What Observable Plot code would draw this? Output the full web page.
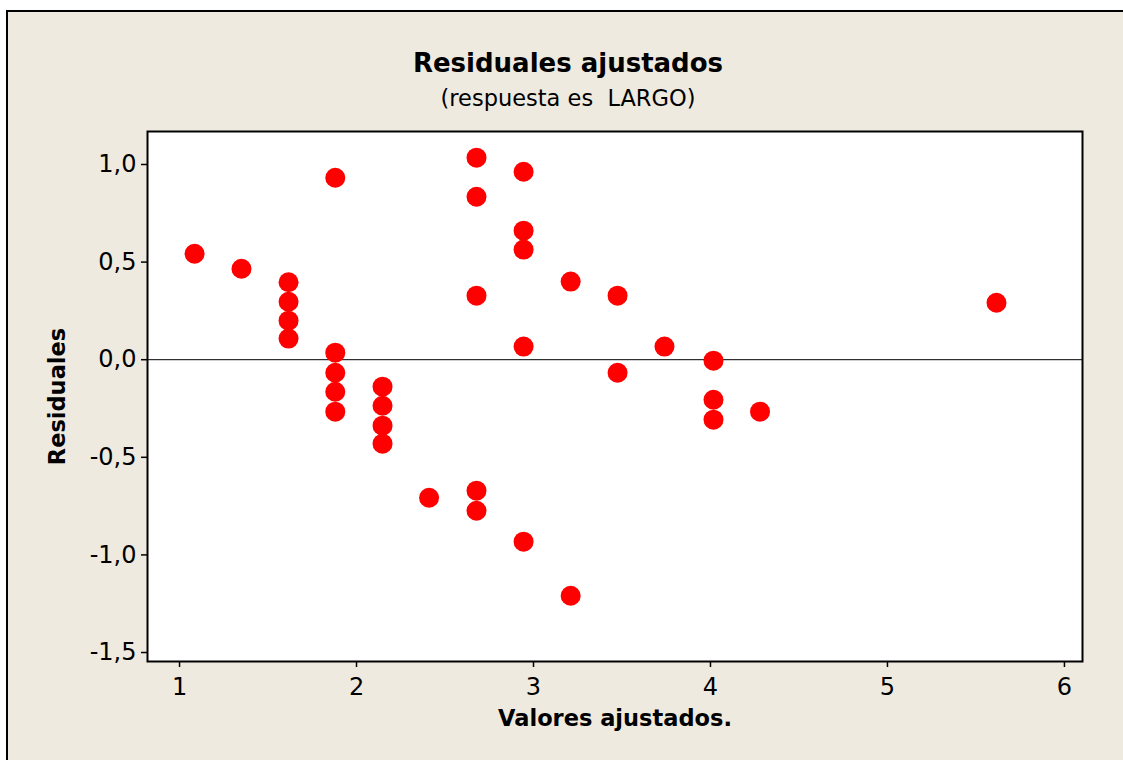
<!DOCTYPE html>
<html>
<head>
<meta charset="utf-8">
<script src="https://cdn.jsdelivr.net/npm/d3@7"></script>
<script src="https://cdn.jsdelivr.net/npm/@observablehq/plot@0.6"></script>
<style>
  html, body { margin: 0; padding: 0; background: #ffffff; width: 1123px; height: 760px; overflow: hidden; }
  #frame { position: absolute; left: 6px; top: 10px; width: 1130px; height: 760px; background: #EEEAE0;
           border-left: 2px solid #000; border-top: 2px solid #000; }
  #title { position: absolute; left: 0; width: 1136px; top: 47px; text-align: center;
           font-family: "DejaVu Sans", sans-serif; font-weight: bold; font-size: 26px; color: #000; line-height: 32px; }
  #subtitle { position: absolute; left: 0; width: 1136px; top: 84px; text-align: center;
           font-family: "DejaVu Sans", sans-serif; font-size: 22.5px; color: #000; line-height: 28px; }
  #chart { position: absolute; left: 0; top: 0; }
</style>
</head>
<body>
<div id="frame"></div>
<div id="title">Residuales ajustados</div>
<div id="subtitle">(respuesta es&nbsp; LARGO)</div>
<div id="chart"></div>
<script>
const fitted = [1.085, 1.35, 1.616, 1.616, 1.616, 1.616,
  1.88, 1.88, 1.88, 1.88, 1.88,
  2.147, 2.147, 2.147, 2.147,
  2.41,
  2.678, 2.678, 2.678, 2.678, 2.678,
  2.944, 2.944, 2.944, 2.944, 2.944,
  3.21, 3.21,
  3.475, 3.475,
  3.74,
  4.017, 4.017, 4.017,
  4.28,
  5.616];
const residuals = [0.543, 0.466, 0.397, 0.297, 0.200, 0.108,
  0.932, 0.036, -0.067, -0.164, -0.266,
  -0.138, -0.236, -0.338, -0.430,
  -0.707,
  1.035, 0.835, 0.328, -0.671, -0.774,
  0.963, 0.661, 0.564, 0.067, -0.932,
  0.400, -1.209,
  0.328, -0.067,
  0.067,
  -0.005, -0.205, -0.307,
  -0.266,
  0.292];
const xTicks = [1, 2, 3, 4, 5, 6];
const yTicks = [-1.5, -1.0, -0.5, 0.0, 0.5, 1.0];
const xLabel = "Valores ajustados.";
const yLabel = "Residuales";

const data = fitted.map((x, i) => ({x, y: residuals[i]}));
const fmtY = d => d.toFixed(1).replace(".", ",");

const chart = Plot.plot({
  width: 1123,
  height: 760,
  marginLeft: 147,
  marginRight: 41,
  marginTop: 131,
  marginBottom: 99,
  style: {background: "transparent", fontFamily: "DejaVu Sans, sans-serif", color: "#000"},
  x: {domain: [0.819, 6.102], ticks: xTicks},
  y: {domain: [-1.546, 1.169], ticks: yTicks},
  marks: [
    Plot.frame({fill: "white", stroke: "none"}),
    Plot.ruleY([0], {stroke: "black", strokeWidth: 1}),
    Plot.dot(data, {x: "x", y: "y", r: 10, fill: "#FF0000", stroke: "none"}),
    Plot.frame({stroke: "black", strokeWidth: 2}),
    Plot.axisX({ticks: xTicks, tickSize: 6, tickPadding: 10, fontSize: 24, tickFormat: d => String(d), label: null, strokeWidth: 1.5}),
    Plot.axisY({ticks: yTicks, tickSize: 6, tickPadding: 5, fontSize: 24, tickFormat: fmtY, label: null, strokeWidth: 1.5}),
    Plot.text([xLabel], {frameAnchor: "bottom", dy: 64, fontWeight: "bold", fontSize: 22.5, fill: "black"}),
    Plot.text([yLabel], {frameAnchor: "left", dx: -90, rotate: -90, textAnchor: "middle", fontWeight: "bold", fontSize: 22.5, fill: "black"})
  ]
});
document.getElementById("chart").appendChild(chart);
</script>
</body>
</html>
